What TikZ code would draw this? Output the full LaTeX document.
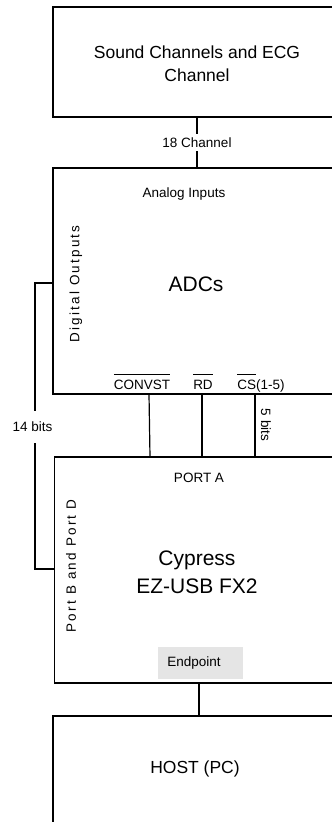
\documentclass[tikz,border=0pt]{standalone}
\usepackage{fontspec}
\setmainfont{Liberation Sans}
\newfontfamily\spacedfont[LetterSpace=16.5]{Liberation Sans}
\newcommand\ovl[1]{\leavevmode\vbox{\hrule height 0.9pt\kern 4.5pt\hbox{#1}}}
\tikzset{
  blk/.style={draw, line width=1.2pt, inner sep=0pt, outer sep=0pt},
  wire/.style={line width=1.2pt},
  big/.style={font=\fontsize{17.5}{23}\selectfont, align=center, inner sep=0pt},
  huge/.style={font=\fontsize{21}{28}\selectfont, align=center, inner sep=0pt},
  small/.style={font=\fontsize{13.5}{16}\selectfont, inner sep=1pt},
  vsmall/.style={font=\fontsize{13.5}{16}\spacedfont, inner sep=0pt, rotate=90},
}
\begin{document}
\begin{tikzpicture}[x=1pt,y=1pt]
\useasboundingbox (0,0) rectangle (332,-822);
% boxes
\node[blk, minimum width=289pt, minimum height=110pt] (src) at (197.5,-62) {};
\node[blk, minimum width=289pt, minimum height=226pt] (adc) at (197.5,-281) {};
\node[blk, minimum width=287.5pt, minimum height=226pt] (cy) at (198.25,-570) {};
\node[blk, minimum width=289pt, minimum height=114pt] (host) at (197.5,-773) {};
\node[fill=black!10, minimum width=85pt, minimum height=32pt, inner sep=0pt] (ep) at (200.5,-663) {};
% texts
\node[big] (srct) at (197,-64) {Sound Channels and ECG\\Channel};
\node[small] (ai) at (184,-194) {Analog Inputs};
\node[huge] (adct) at (196,-284) {ADCs};
\node[vsmall] (dout) at (76,-284) {Digital Outputs};
\node[small, anchor=base, inner sep=0pt] (cv) at (142,-389) {\ovl{CONVST}};
\node[small, anchor=base, inner sep=0pt] (rd) at (203,-389) {\ovl{RD}};
\node[small, anchor=base, inner sep=0pt] (cs) at (261,-389) {\ovl{CS}(1-5)};
\node[small] (pa) at (199,-478) {PORT A};
\node[huge] (cyt) at (197,-572) {Cypress\\EZ-USB FX2};
\node[vsmall] (pbd) at (71,-566) {Port B and Port D};
\node[small] (ept) at (194,-663) {Endpoint};
\node[big] (hostt) at (195,-769) {HOST (PC)};
% connectors
\coordinate (c1) at (197,-117);
\coordinate (c2) at (197,-168);
\draw[wire] (c1) -- (c2) node[midway, small, fill=white, inner sep=4pt] {18 Channel};
\coordinate (d1) at (53,-283);
\coordinate (d2) at (35,-283);
\coordinate (d3) at (35,-569);
\coordinate (d4) at (54.5,-569);
\draw[wire] (d1) -- (d2) -- (d3) -- (d4);
\node[small, fill=white, inner sep=0pt, minimum height=32pt] (fb) at (32.5,-427) {14 bits};
\coordinate (e1) at (149,-394);
\coordinate (e2) at (150,-457);
\draw[wire] (e1) -- (e2);
\coordinate (f1) at (202,-394);
\coordinate (f2) at (202,-457);
\draw[wire] (f1) -- (f2);
\coordinate (g1) at (255,-394);
\coordinate (g2) at (255,-457);
\draw[wire] (g1) -- (g2);
\node[small, rotate=-90, inner sep=0pt] (fiveb) at (266,-425) {5 bits};
\coordinate (h1) at (199,-683);
\coordinate (h2) at (199,-716);
\draw[wire] (h1) -- (h2);
\end{tikzpicture}
\end{document}
